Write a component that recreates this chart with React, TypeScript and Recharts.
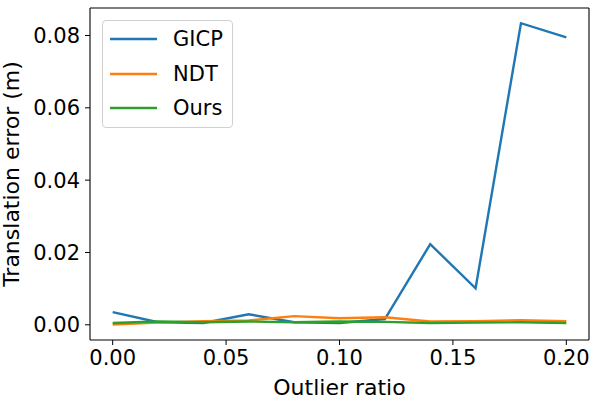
import React from 'react';
import { LineChart, Line, XAxis, YAxis, Legend, ReferenceLine } from 'recharts';

const outlierRatios = [0, 0.02, 0.04, 0.06, 0.08, 0.1, 0.12, 0.14, 0.16, 0.18, 0.2];
const gicp = [0.0035, 0.0007, 0.0005, 0.0029, 0.0007, 0.0005, 0.0016, 0.0223, 0.0101, 0.0834, 0.0795];
const ndt = [0.0001, 0.0006, 0.001, 0.0012, 0.0024, 0.0018, 0.0021, 0.0009, 0.001, 0.0013, 0.001];
const ours = [0.0005, 0.0009, 0.0007, 0.0009, 0.0007, 0.0009, 0.0008, 0.0005, 0.0006, 0.0007, 0.0005];
const xTicks = [0, 0.05, 0.1, 0.15, 0.2];
const yTicks = [0, 0.02, 0.04, 0.06, 0.08];

const data = outlierRatios.map((x, i) => ({ x, GICP: gicp[i], NDT: ndt[i], Ours: ours[i] }));

const FONT = '"DejaVu Sans", sans-serif';
const xDomain: [number, number] = [-0.01, 0.21];
const yDomain: [number, number] = [-0.0042, 0.0876];

const renderLegend = (props: any) => {
  const payload = props.payload || [];
  return (
    <div
      style={{
        width: 131,
        height: 108,
        boxSizing: 'border-box',
        border: '1px solid #d0d0d0',
        borderRadius: 4,
        background: 'rgba(255,255,255,0.8)',
        fontFamily: FONT,
        fontSize: 21,
        color: '#000',
        paddingTop: 0,
      }}
    >
      {payload.map((p: any, i: number) => (
        <div key={i} style={{ display: 'flex', alignItems: 'center', height: 34.5, marginTop: i === 0 ? 1 : 0 }}>
          <svg width={70} height={10} style={{ display: 'block' }}>
            <line x1={7} x2={54} y1={5} y2={5} stroke={p.color} strokeWidth={2.6} />
          </svg>
          <span>{p.value}</span>
        </div>
      ))}
    </div>
  );
};

export default function App() {
  return (
    <div style={{ position: 'absolute', left: 0, top: 0, width: 600, height: 400, background: '#fff' }}>
      <LineChart width={600} height={400} data={data} margin={{ top: 8, right: 11, left: 0, bottom: 0 }}>
        <XAxis
          dataKey="x"
          type="number"
          domain={xDomain}
          ticks={xTicks}
          allowDataOverflow
          height={60}
          tickSize={5}
          tickMargin={5}
          tickFormatter={(v: number) => v.toFixed(2)}
          tick={{ fill: '#000', fontSize: 21, fontFamily: FONT }}
          stroke="#000"
          axisLine={{ stroke: '#000', strokeWidth: 1.1 }}
          tickLine={{ stroke: '#000' }}
          label={{
            value: 'Outlier ratio',
            content: (p: any) => {
              const vb = p.viewBox || { x: 90, y: 340, width: 499, height: 60 };
              return (
                <text x={vb.x + vb.width / 2} y={vb.y + 55} textAnchor="middle" fontSize={22} fontFamily={FONT} fill="#000">
                  Outlier ratio
                </text>
              );
            },
          }}
        />
        <YAxis
          type="number"
          domain={yDomain}
          ticks={yTicks}
          allowDataOverflow
          width={90}
          tickSize={5}
          tickMargin={5}
          tickFormatter={(v: number) => v.toFixed(2)}
          tick={{ fill: '#000', fontSize: 21, fontFamily: FONT }}
          axisLine={{ stroke: '#000', strokeWidth: 1.1 }}
          tickLine={{ stroke: '#000' }}
          label={{
            value: 'Translation error (m)',
            content: (p: any) => {
              const vb = p.viewBox || { x: 0, y: 8, width: 90, height: 332 };
              const cx = vb.x + 19;
              const cy = vb.y + vb.height / 2;
              return (
                <text x={cx} y={cy} transform={`rotate(-90, ${cx}, ${cy})`} textAnchor="middle" fontSize={22} fontFamily={FONT} fill="#000">
                  Translation error (m)
                </text>
              );
            },
          }}
        />
        <ReferenceLine y={yDomain[1]} stroke="#000" strokeWidth={1.1} />
        <ReferenceLine x={xDomain[1]} stroke="#000" strokeWidth={1.1} />
        <Legend
          layout="vertical"
          verticalAlign="middle"
          align="center"
          content={renderLegend}
          wrapperStyle={{ position: 'absolute', left: 102, top: 20, width: 131, height: 108 }}
        />
        <Line type="linear" dataKey="GICP" stroke="#1f77b4" strokeWidth={2.4} dot={false} isAnimationActive={false} />
        <Line type="linear" dataKey="NDT" stroke="#ff7f0e" strokeWidth={2.4} dot={false} isAnimationActive={false} />
        <Line type="linear" dataKey="Ours" stroke="#2ca02c" strokeWidth={2.4} dot={false} isAnimationActive={false} />
      </LineChart>
    </div>
  );
}
